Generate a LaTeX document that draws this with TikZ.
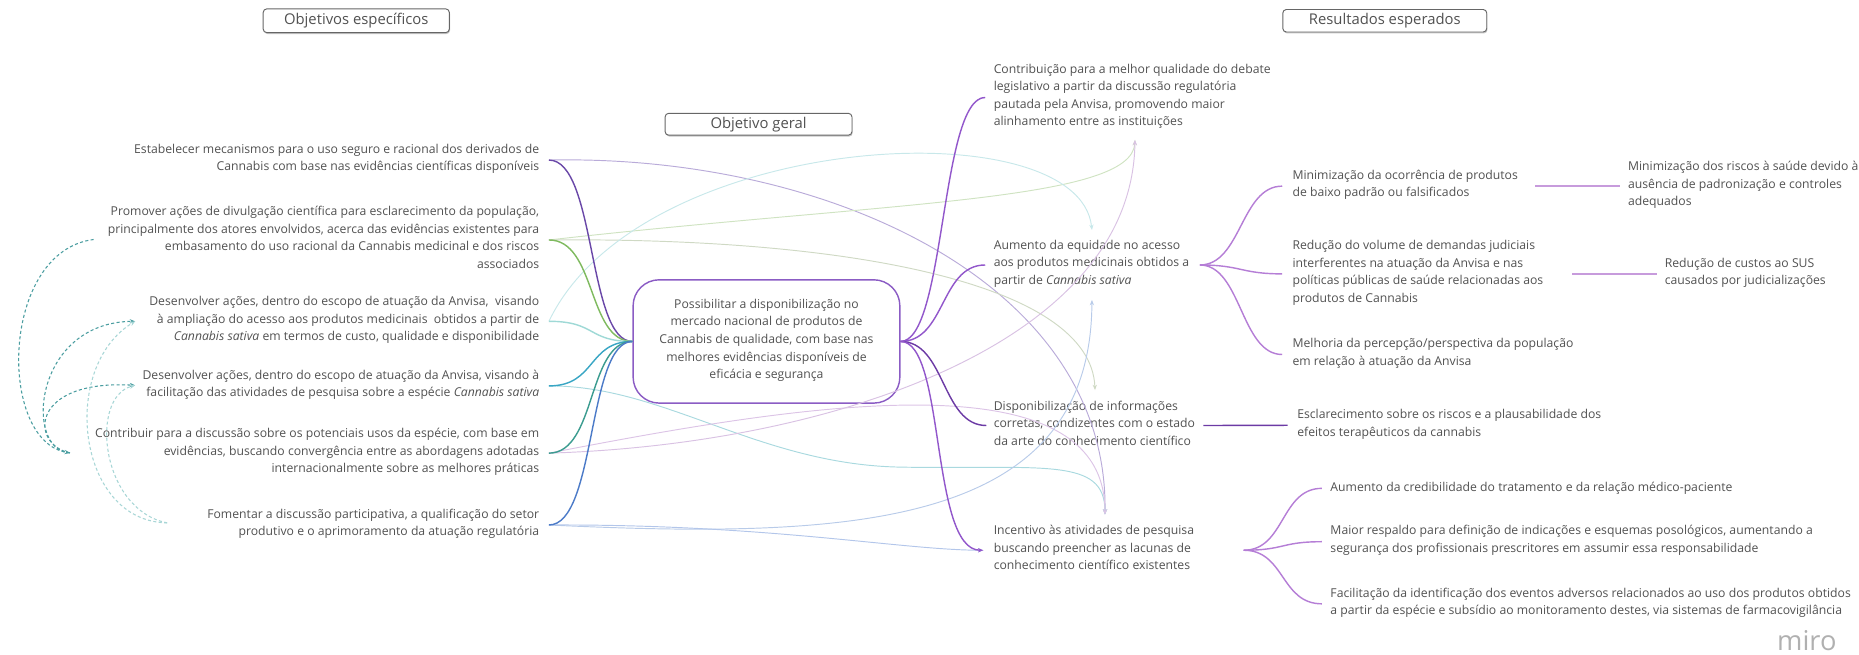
\documentclass[tikz,border=0pt]{standalone}
\usepackage{fontspec}
\setmainfont{Open Sans}
\usetikzlibrary{arrows.meta,shadows}
\definecolor{txt}{HTML}{515151}
\definecolor{hdrc}{HTML}{666666}
\definecolor{genc}{HTML}{8B5CC4}
\definecolor{cLa}{HTML}{6A48A8}
\definecolor{cLb}{HTML}{7FBA5F}
\definecolor{cLc}{HTML}{9FD9D6}
\definecolor{cLd}{HTML}{39A6C4}
\definecolor{cLe}{HTML}{3C9C90}
\definecolor{cLf}{HTML}{4C7BC8}
\definecolor{cR}{HTML}{9257CB}
\definecolor{cRd}{HTML}{6C3BA5}
\definecolor{cbr}{HTML}{B57ED6}
\definecolor{ceg}{HTML}{C79BDC}
\definecolor{pa}{HTML}{B9ABD9}
\definecolor{pb}{HTML}{CFE3C2}
\definecolor{pc}{HTML}{CFD9C4}
\definecolor{pd}{HTML}{C8E8EA}
\definecolor{pe}{HTML}{A9D9DF}
\definecolor{pf}{HTML}{D9C2E3}
\definecolor{pg}{HTML}{DCC4E6}
\definecolor{ph}{HTML}{B8CBE9}
\definecolor{pi}{HTML}{B3C6EA}
\definecolor{dtk}{HTML}{4A9DA0}
\definecolor{dtl}{HTML}{A8D6D6}
\definecolor{mirog}{HTML}{B0B0B0}
\newcommand\bodyfs{\fontsize{10.3}{14.8}\selectfont}
\begin{document}
\begin{tikzpicture}[x=1pt,y=-1pt,
  tx/.style={font=\bodyfs, text=txt, inner sep=0pt,
    execute at begin node=\strut, execute at end node=\strut},
  lt/.style={tx, align=right, anchor=east},
  rt/.style={tx, align=left, anchor=west},
  hdr/.style={draw=hdrc, fill=white, rounded corners=3pt, line width=0.8pt,
    font=\fontsize{12.5}{15}\selectfont, text=txt, inner sep=0pt,
    drop shadow={shadow xshift=0.6pt, shadow yshift=-1.2pt, opacity=0.45, fill=gray}},
  mc/.style={line width=1.2pt},
  pl/.style={line width=0.8pt},
  tip/.style={-{Stealth[length=4.5pt,width=3.6pt]}},
  dsh/.style={line width=0.9pt, dash pattern=on 2.6pt off 2pt},
]
\useasboundingbox (0,0) rectangle (1568,552);

% headers
\node[hdr, minimum width=157pt, minimum height=20pt] (H1) at (300.5,17.5) {Objetivos específicos};
\node[hdr, minimum width=172pt, minimum height=19pt] (H2) at (1168,17.5) {Resultados esperados};
\node[hdr, minimum width=157.6pt, minimum height=18.4pt] (H3) at (639.8,104.8) {Objetivo geral};

% left column
\node[lt] (L1) at (455,135) {Estabelecer mecanismos para o uso seguro e racional dos derivados de\\Cannabis com base nas evidências científicas disponíveis};
\node[lt] (L2) at (455,202.4) {Promover ações de divulgação científica para esclarecimento da população,\\principalmente dos atores envolvidos, acerca das evidências existentes para\\embasamento do uso racional da Cannabis medicinal e dos riscos\\associados};
\node[lt] (L3) at (455,271) {Desenvolver ações, dentro do escopo de atuação da Anvisa,\ \ visando\\à ampliação do acesso aos produtos medicinais\ \ obtidos a partir de\\\textit{Cannabis sativa} em termos de custo, qualidade e disponibilidade};
\node[lt] (L4) at (455,325.5) {Desenvolver ações, dentro do escopo de atuação da Anvisa, visando à\\facilitação das atividades de pesquisa sobre a espécie \textit{Cannabis sativa}};
\node[lt] (L5) at (455,382.2) {Contribuir para a discussão sobre os potenciais usos da espécie, com base em\\evidências, buscando convergência entre as abordagens adotadas\\internacionalmente sobre as melhores práticas};
\node[lt] (L6) at (455,442.8) {Fomentar a discussão participativa, a qualificação do setor\\produtivo e o aprimoramento da atuação regulatória};

% central node
\node[tx, align=center, draw=genc, line width=1.2pt, rounded corners=22pt,
  minimum width=225pt, minimum height=104pt] (G) at (646.5,288)
  {Possibilitar a disponibilização no\\mercado nacional de produtos de\\Cannabis de qualidade, com base nas\\melhores evidências disponíveis de\\eficácia e segurança};

% results column
\node[rt] (A) at (838,82.2) {Contribuição para a melhor qualidade do debate\\legislativo a partir da discussão regulatória\\pautada pela Anvisa, promovendo maior\\alinhamento entre as instituições};
\node[rt] (B) at (838,223.5) {Aumento da equidade no acesso\\aos produtos medicinais obtidos a\\partir de \textit{Cannabis sativa}};
\node[rt] (C) at (838,358.9) {Disponibilização de informações\\corretas, condizentes com o estado\\da arte do conhecimento científico};
\node[rt] (D) at (838,464.1) {Incentivo às atividades de pesquisa\\buscando preencher as lacunas de\\conhecimento científico existentes};

\node[rt] (E1) at (1090,157) {Minimização da ocorrência de produtos\\de baixo padrão ou falsificados};
\node[rt] (E2) at (1090,231) {Redução do volume de demandas judiciais\\interferentes na atuação da Anvisa e nas\\políticas públicas de saúde relacionadas aos\\produtos de Cannabis};
\node[rt] (E3) at (1090,299) {Melhoria da percepção/perspectiva da população\\em relação à atuação da Anvisa};
\node[rt] (E4) at (1094,358.7) {Esclarecimento sobre os riscos e a plausabilidade dos\\efeitos terapêuticos da cannabis};
\node[rt] (F1) at (1122,411.9) {Aumento da credibilidade do tratamento e da relação médico-paciente};
\node[rt] (F2) at (1122,456.9) {Maior respaldo para definição de indicações e esquemas posológicos, aumentando a\\segurança dos profissionais prescritores em assumir essa responsabilidade};
\node[rt] (F3) at (1122,509.3) {Facilitação da identificação dos eventos adversos relacionados ao uso dos produtos obtidos\\a partir da espécie e subsídio ao monitoramento destes, via sistemas de farmacovigilância};
\node[rt] (G1) at (1373,157) {Minimização dos riscos à saúde devido à\\ausência de padronização e controles\\adequados};
\node[rt] (G2) at (1404,231) {Redução de custos ao SUS\\causados por judicializações};

\node[font=\fontsize{23}{23}\selectfont, text=mirog, inner sep=0pt] (miro) at (1524,540) {miro};

% anchor coordinates
\coordinate (Au) at (957.3,118);
\coordinate (Bd) at (921,194);
\coordinate (Bu) at (921,253);
\coordinate (Cd) at (923.6,329);
\coordinate (Dd) at (932,434);
\coordinate (Bo) at ([xshift=174pt]B.west);
\coordinate (Do) at ([xshift=211pt]D.west);

% pale cross connectors
\draw[pl, pa, tip] ([xshift=8pt]L1.east) .. controls (700,130) and (935,240) .. (Dd);
\draw[pl, pb, tip] ([xshift=8pt]L2.east) .. controls (750,170) and (955,170) .. (Au);
\draw[pl, pc, tip] ([xshift=8pt]L2.east) .. controls (720,200) and (920,240) .. (Cd);
\draw[pl, pd, tip] ([xshift=8pt]L3.east) .. controls (540,110) and (910,90) .. (Bd);
\draw[pl, pe, tip] ([xshift=8pt]L4.east) .. controls (560,325) and (640,392) .. (760,394) .. controls (880,396) and (932,385) .. (Dd);
\draw[pl, pf, tip] ([xshift=8pt]L5.east) .. controls (700,375) and (955,290) .. (Au);
\draw[pl, pg, tip] ([xshift=8pt]L5.east) .. controls (680,340) and (932,300) .. (Dd);
\draw[pl, ph, tip] ([xshift=8pt]L6.east) .. controls (720,455) and (920,445) .. (Bu);
\draw[pl, pi, tip] ([xshift=8pt]L6.east) .. controls (650,442) and (760,464) .. ([xshift=-8.6pt]D.west);

% main connectors left
\draw[mc, cLa] ([xshift=8pt]L1.east) .. controls +(40,0) and +(-38,0) .. (G.west);
\draw[mc, cLb] ([xshift=8pt]L2.east) .. controls +(40,0) and +(-38,0) .. (G.west);
\draw[mc, cLc] ([xshift=8pt]L3.east) .. controls +(40,0) and +(-38,0) .. (G.west);
\draw[mc, cLd] ([xshift=8pt]L4.east) .. controls +(40,0) and +(-38,0) .. (G.west);
\draw[mc, cLe] ([xshift=8pt]L5.east) .. controls +(40,0) and +(-38,0) .. (G.west);
\draw[mc, cLf] ([xshift=8pt]L6.east) .. controls +(40,0) and +(-38,0) .. (G.west);

% main connectors right
\draw[mc, cR] (G.east) .. controls +(38,0) and +(-38,0) .. ([xshift=-7pt]A.west);
\draw[mc, cR] (G.east) .. controls +(38,0) and +(-38,0) .. ([xshift=-7pt]B.west);
\draw[mc, cRd] (G.east) .. controls +(38,0) and +(-38,0) .. ([xshift=-6pt]C.west);
\draw[mc, cR, tip] (G.east) .. controls +(38,0) and +(-45,0) .. ([xshift=-8.6pt]D.west);

% branches
\draw[mc, cbr] (Bo) .. controls +(35,0) and +(-35,0) .. ([xshift=-8.5pt]E1.west);
\draw[mc, cbr] (Bo) .. controls +(35,0) and +(-35,0) .. ([xshift=-8.5pt]E2.west);
\draw[mc, cbr] (Bo) .. controls +(35,0) and +(-35,0) .. ([xshift=-8.5pt]E3.west);
\draw[mc, cRd] ([xshift=177pt]C.west) -- ([xshift=-8pt]E4.west);
\draw[mc, cbr] (Do) .. controls +(35,0) and +(-35,0) .. ([xshift=-7pt]F1.west);
\draw[mc, cbr] (Do) .. controls +(35,0) and +(-35,0) .. ([xshift=-7pt]F2.west);
\draw[mc, cbr] (Do) .. controls +(35,0) and +(-35,0) .. ([xshift=-7pt]F3.west);
\draw[mc, ceg] ([xshift=205pt]E1.west) -- ([xshift=-7pt]G1.west);
\draw[mc, ceg] ([xshift=236pt]E2.west) -- ([xshift=-6pt]G2.west);

% dashed links on the left
\coordinate (Pl) at (79,202);
\coordinate (Cl) at (59,382);
\coordinate (Fl) at (141,441);
\coordinate (Al) at (114,271);
\coordinate (Fa) at (114,325);
\draw[dsh, dtk, tip] (Pl) .. controls (0,212) and (-2,372) .. (Cl);
\draw[dsh, dtk, tip] (Cl) .. controls (20,380) and (28,272) .. (Al);
\draw[dsh, dtk, tip] (Cl) .. controls (25,375) and (25,320) .. (Fa);
\draw[dsh, dtl, tip] (Fl) .. controls (65,440) and (50,310) .. (Al);
\draw[dsh, dtl, tip] (Fl) .. controls (85,430) and (75,335) .. (Fa);
\end{tikzpicture}
\end{document}
